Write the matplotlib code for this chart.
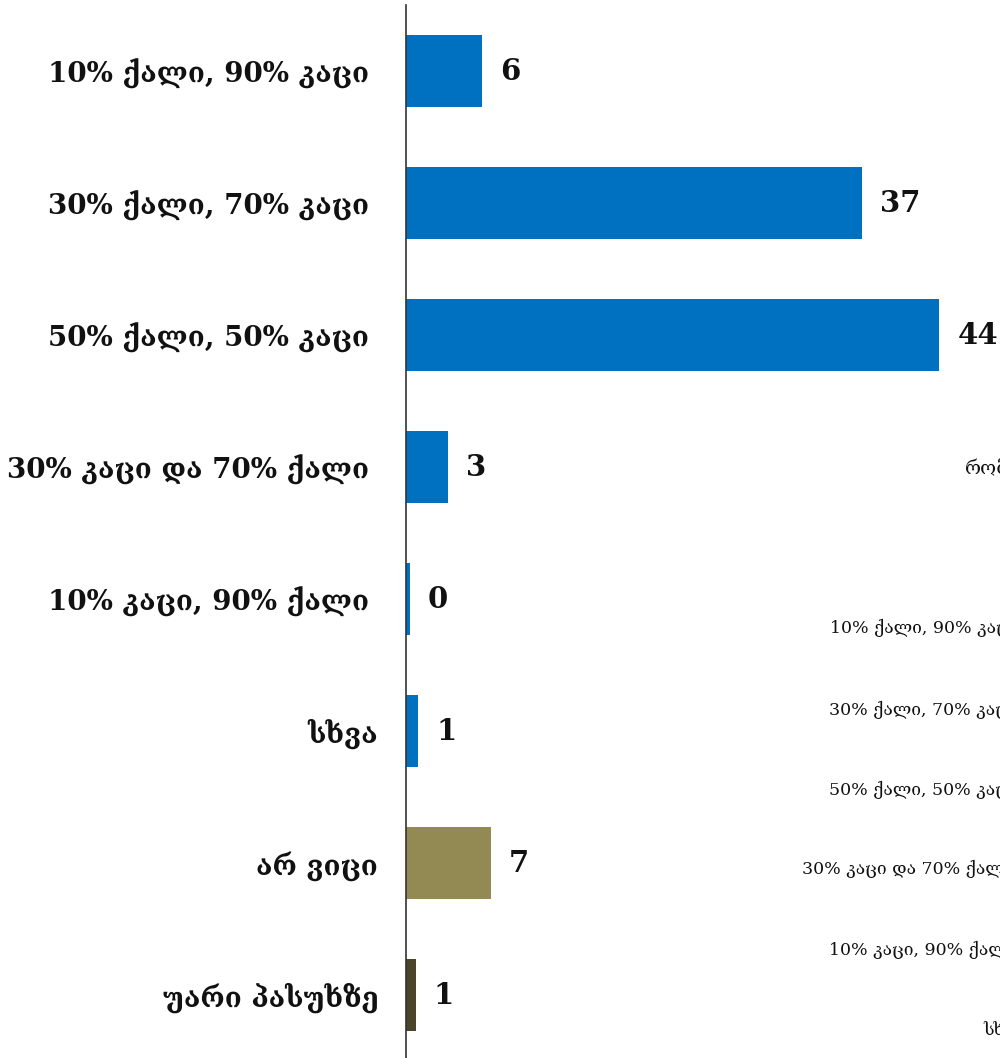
import matplotlib
matplotlib.use("Agg")
import matplotlib.pyplot as plt

categories = ["10% ქალი, 90% კაცი ", "30% ქალი, 70% კაცი ", "50% ქალი, 50% კაცი ",
              "30% კაცი და 70% ქალი ", "10% კაცი, 90% ქალი ", "სხვა", "არ ვიცი", "უარი პასუხზე"]
values = [6.3, 37.6, 44.0, 3.5, 0.3, 1.0, 7.0, 0.8]
value_labels = ["6", "37", "44", "3", "0", "1", "7", "1"]
bar_colors = ["#0070C0"] * 6 + ["#938953", "#4A452A"]

side_title = "რომელი"
side_labels = ["10% ქალი, 90% კაცი", "30% ქალი, 70% კაცი", "50% ქალი, 50% კაცი",
               "30% კაცი და 70% ქალი", "10% კაცი, 90% ქალი", "სხვა"]

FAM = ["DejaVu Serif", "DejaVu Sans"]
plt.rcParams["font.family"] = FAM

W, H = 1000, 1058
fig = plt.figure(figsize=(W / 100, H / 100), dpi=100)
ax_left = 406 / W
ax_bottom = -3 / H
ax_top = 5 / H
ax = fig.add_axes([ax_left, ax_bottom, 1 - ax_left, 1 - ax_top - ax_bottom])

y = list(range(len(categories)))
ax.barh(y, values, height=0.55, color=bar_colors)
ax.set_ylim(len(categories) - 0.5, -0.5)
ax.set_xlim(0, 594 / 12.12)

for yi, v, lab in zip(y, values, value_labels):
    ax.annotate(lab, (v, yi), xytext=(18, 0), textcoords="offset pixels",
                ha="left", va="center", fontsize=21, fontweight="bold", color="#111111",
                annotation_clip=False)

ax.set_yticks(y)
ax.set_yticklabels(categories, fontsize=20, fontweight="bold", color="#111111")
ax.tick_params(axis="y", length=0, pad=20)
ax.set_xticks([])
for s in ["top", "right", "bottom"]:
    ax.spines[s].set_visible(False)
ax.spines["left"].set_color("#333333")
ax.spines["left"].set_linewidth(1.2)

# Partially visible neighbouring chart on the right (cut by the figure edge as in the reference)
fig.text(965 / W, 1 - 468 / H, side_title, fontsize=14, va="center", ha="left", color="#111111")
side_x = [830, 829, 829, 802, 829, 983]
side_y = [628, 710, 790, 869, 950, 1030]
for t, sx, sy in zip(side_labels, side_x, side_y):
    fig.text(sx / W, 1 - sy / H, t, fontsize=12.5, va="center", ha="left", color="#111111")

fig.savefig("out.png", dpi=100)
